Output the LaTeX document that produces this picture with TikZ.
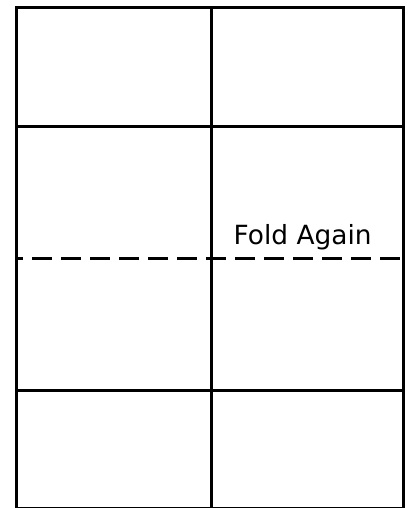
\documentclass[tikz,border=0pt]{standalone}
\usepackage{fontspec}
\setmainfont{DejaVu Sans}
\begin{document}
\begin{tikzpicture}[x=1pt,y=-1pt,
  gridline/.style={line width=3pt,black,line cap=rect},
  foldline/.style={line width=3pt,black,dash pattern=on 20pt off 9pt,dash phase=13pt},
  label/.style={font=\fontsize{26.4}{31}\selectfont,inner sep=0pt,anchor=base west}]
\useasboundingbox (0,0) rectangle (409,508);
% outer frame and grid
\draw[gridline] (16,8) -- (403,8);
\draw[gridline] (16,8) -- (16,508);
\draw[gridline] (403,8) -- (403,508);
\draw[gridline] (211,8) -- (211,508);
\draw[gridline] (16,126) -- (403,126);
\draw[gridline] (16,390) -- (403,390);
\draw[gridline] (16,508) -- (403,508);
% fold line
\draw[foldline] (16,258.5) -- (403,258.5);
\node[label] (fold) at (233.5,244.3) {Fold Again};
\end{tikzpicture}
\end{document}
